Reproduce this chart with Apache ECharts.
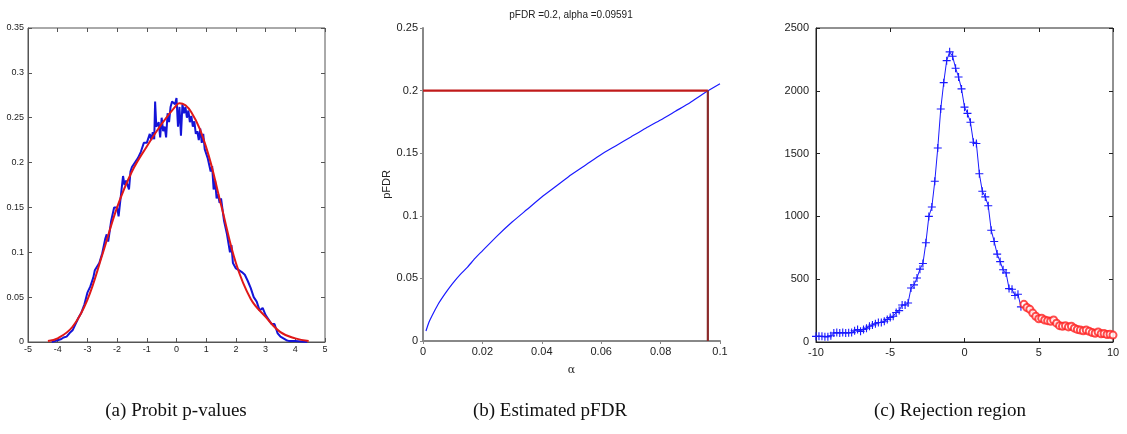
<!DOCTYPE html>
<html>
<head>
<meta charset="utf-8">
<script src="https://cdn.jsdelivr.net/npm/echarts@6/dist/echarts.min.js"></script>
<style>
html,body{margin:0;padding:0;background:#fff;}
#chart{width:1127px;height:434px;}
</style>
</head>
<body>
<div id="chart"></div>
<script>
// ---------- Panel (a): Probit p-values ----------
var probitEmpirical = [
  [-4.2,0.000],[-4.1,0.001],[-4.0,0.002],[-3.9,0.003],[-3.8,0.005],[-3.7,0.006],[-3.6,0.010],[-3.5,0.013],
  [-3.4,0.020],[-3.3,0.027],[-3.2,0.033],[-3.1,0.042],[-3.0,0.055],[-2.9,0.062],[-2.8,0.072],[-2.75,0.080],
  [-2.7,0.078],[-2.6,0.088],[-2.5,0.099],[-2.4,0.115],[-2.35,0.120],[-2.3,0.112],[-2.2,0.135],[-2.1,0.150],
  [-2.0,0.150],[-1.95,0.140],[-1.9,0.155],[-1.8,0.185],[-1.75,0.175],[-1.7,0.180],[-1.6,0.170],[-1.55,0.190],
  [-1.5,0.195],[-1.4,0.200],[-1.3,0.205],[-1.2,0.212],[-1.1,0.222],[-1.0,0.222],[-0.9,0.232],[-0.85,0.225],
  [-0.8,0.234],[-0.75,0.226],[-0.72,0.268],[-0.68,0.240],[-0.6,0.245],[-0.55,0.228],[-0.5,0.250],[-0.45,0.235],
  [-0.4,0.240],[-0.35,0.228],[-0.3,0.255],[-0.25,0.245],[-0.2,0.262],[-0.15,0.268],[-0.1,0.270],[-0.05,0.265],
  [0.0,0.272],[0.05,0.240],[0.1,0.262],[0.15,0.230],[0.2,0.265],[0.25,0.255],[0.3,0.262],[0.35,0.250],
  [0.4,0.258],[0.45,0.245],[0.5,0.252],[0.55,0.240],[0.6,0.246],[0.65,0.232],[0.7,0.235],[0.75,0.225],
  [0.8,0.238],[0.85,0.222],[0.9,0.232],[0.95,0.215],[1.0,0.215],[1.05,0.205],[1.1,0.207],[1.15,0.190],
  [1.2,0.196],[1.25,0.170],[1.3,0.180],[1.35,0.160],[1.4,0.165],[1.45,0.155],[1.5,0.160],[1.6,0.135],
  [1.7,0.120],[1.8,0.100],[1.85,0.108],[1.9,0.088],[2.0,0.082],[2.1,0.080],[2.2,0.078],[2.3,0.075],
  [2.4,0.068],[2.5,0.060],[2.6,0.050],[2.7,0.045],[2.8,0.035],[2.9,0.038],[3.0,0.030],[3.1,0.025],
  [3.2,0.020],[3.3,0.020],[3.4,0.010],[3.5,0.006],[3.6,0.004],[3.7,0.002],[3.8,0.001],[4.0,0.001],
  [4.2,0.0005],[4.4,0.000]
];
var probitFit = [
  [-4.33,0.001],[-4.0,0.004],[-3.5,0.017],[-3.0,0.047],[-2.5,0.097],[-2.0,0.150],[-1.5,0.190],
  [-1.0,0.218],[-0.5,0.243],[0.0,0.264],[0.1,0.266],[0.5,0.256],[1.0,0.217],[1.5,0.153],
  [2.0,0.088],[2.5,0.048],[3.0,0.028],[3.5,0.011],[4.0,0.004],[4.45,0.001]
];
var ticksA_x = {min:-5, max:5, step:1};
var ticksA_y = {min:0, max:0.35, step:0.05};

// ---------- Panel (b): Estimated pFDR ----------
var alphaVals = [0.001,0.002,0.003,0.005,0.0075,0.01,0.0125,0.015,0.0175,0.02,0.025,0.03,0.035,0.04,0.045,
                 0.05,0.055,0.06,0.065,0.07,0.075,0.08,0.085,0.09,0.095,0.1];
var pfdrVals  = [0.008,0.015,0.020,0.029,0.038,0.046,0.053,0.059,0.066,0.072,0.084,0.095,0.105,0.115,0.124,
                 0.133,0.141,0.149,0.156,0.163,0.170,0.1765,0.1835,0.1905,0.1985,0.2055];
var pfdrTarget = 0.2;
var alphaStar = 0.09591;
var ticksB_x = {min:0, max:0.1, step:0.02};
var ticksB_y = {min:0, max:0.25, step:0.05};

// ---------- Panel (c): Rejection region ----------
var acceptPts = [
  [-10,45],[-9.8,45],[-9.6,45],[-9.4,42],[-9.2,42],[-9.0,50],[-8.8,72],[-8.6,75],[-8.4,72],[-8.2,75],
  [-8.0,72],[-7.8,74],[-7.6,75],[-7.4,90],[-7.2,100],[-7.0,85],[-6.8,100],[-6.6,110],[-6.4,125],[-6.2,135],
  [-6.0,145],[-5.8,155],[-5.6,155],[-5.4,165],[-5.2,180],[-5.0,195],[-4.8,205],[-4.6,235],[-4.4,250],[-4.2,295],
  [-4.0,295],[-3.8,310],[-3.6,430],[-3.4,455],[-3.2,510],[-3.0,580],[-2.8,625],[-2.6,790],[-2.4,1000],[-2.2,1075],
  [-2.0,1280],[-1.8,1545],[-1.6,1855],[-1.4,2065],[-1.2,2240],[-1.0,2310],[-0.8,2275],[-0.6,2180],[-0.4,2110],[-0.2,2015],
  [0.0,1870],[0.2,1820],[0.4,1750],[0.6,1590],[0.8,1580],[1.0,1340],[1.2,1200],[1.4,1155],[1.6,1085],[1.8,890],
  [2.0,800],[2.2,700],[2.4,640],[2.6,575],[2.8,550],[3.0,425],[3.2,420],[3.4,370],[3.6,380],[3.8,280]
];
var rejectPts = [
  [4.0,300],[4.2,275],[4.4,260],[4.6,230],[4.8,205],[5.0,185],[5.2,190],[5.4,175],[5.6,170],[5.8,165],
  [6.0,175],[6.2,150],[6.4,130],[6.6,125],[6.8,130],[7.0,120],[7.2,125],[7.4,110],[7.6,100],[7.8,95],
  [8.0,90],[8.2,95],[8.4,85],[8.6,75],[8.8,70],[9.0,80],[9.2,65],[9.4,68],[9.6,60],[9.8,62],[10.0,55]
];
var ticksC_x = {min:-10, max:10, step:5};
var ticksC_y = {min:0, max:2500, step:500};

var captions = ['(a) Probit p-values', '(b) Estimated pFDR', '(c) Rejection region'];
var titleB = 'pFDR =0.2, alpha =0.09591';

// ---------- chart ----------
var SANS = '"Liberation Sans Narrow","Liberation Sans",Arial,sans-serif';
var chart = echarts.init(document.getElementById('chart'), null, {renderer:'canvas'});
function plain(v){ return String(+v.toFixed(6)); }

function mainAxis(grid, t, opt) {
  var a = {
    type:'value', gridIndex:grid, min:t.min, max:t.max, interval:t.step,
    splitLine:{show:false},
    axisLine:{show:true, onZero:false, lineStyle:{color:opt.lineColor||'#333', width:opt.lineWidth||1}},
    axisTick:{show:true, inside:opt.inside!==false, length:opt.tickLen||4, lineStyle:{color:opt.tickColor||'#333'}},
    axisLabel:{show:true, fontFamily:SANS, fontSize:opt.fontSize, color:opt.labelColor||'#222', margin:opt.margin, formatter:plain},
    position: opt.position
  };
  if (opt.name) {
    a.name = opt.name; a.nameLocation = 'middle'; a.nameGap = opt.nameGap;
    a.nameTextStyle = {fontFamily:opt.nameFont||SANS, fontSize:opt.nameSize||11, color:'#222'};
    if (opt.nameRotate !== undefined) a.nameRotate = opt.nameRotate;
  }
  return a;
}
function mirrorAxis(grid, t, position, color) {
  return {
    type:'value', gridIndex:grid, min:t.min, max:t.max, interval:t.step, position:position,
    splitLine:{show:false}, axisLine:{show:false, onZero:false},
    axisTick:{show:true, inside:true, length:4, lineStyle:{color:color}},
    axisLabel:{show:false}
  };
}

var option = {
  animation:false,
  backgroundColor:'#fff',
  grid:[
    {left:28, top:28, width:297, height:314, show:true, borderColor:'#555', borderWidth:1, backgroundColor:'transparent'},
    {left:423, top:28, width:297, height:313, show:false},
    {left:816, top:28, width:297, height:314, show:true, borderColor:'#222', borderWidth:1, backgroundColor:'transparent'}
  ],
  xAxis:[
    mainAxis(0,ticksA_x,{fontSize:9, margin:3, lineColor:'#555', tickColor:'#555', position:'bottom'}),
    mainAxis(1,ticksB_x,{fontSize:11, margin:5, lineColor:'#888', lineWidth:2, tickColor:'#888', inside:false, tickLen:3, position:'bottom',
      name:'α', nameGap:24, nameFont:'"DejaVu Serif",serif', nameSize:11}),
    mainAxis(2,ticksC_x,{fontSize:11, margin:5, lineColor:'#222', tickColor:'#222', position:'bottom'}),
    mirrorAxis(0,ticksA_x,'top','#555'),
    mirrorAxis(2,ticksC_x,'top','#222')
  ],
  yAxis:[
    mainAxis(0,ticksA_y,{fontSize:9, margin:4, lineColor:'#555', tickColor:'#555', position:'left'}),
    mainAxis(1,ticksB_y,{fontSize:11, margin:5, lineColor:'#888', lineWidth:2, tickColor:'#888', inside:false, tickLen:3, position:'left',
      name:'pFDR', nameGap:30, nameRotate:90, nameSize:11}),
    mainAxis(2,ticksC_y,{fontSize:11, margin:7, lineColor:'#222', tickColor:'#222', position:'left'}),
    mirrorAxis(0,ticksA_y,'right','#555'),
    mirrorAxis(2,ticksC_y,'right','#222')
  ],
  series:[
    {type:'line', xAxisIndex:0, yAxisIndex:0, data:probitEmpirical, symbol:'none',
      lineStyle:{color:'#1414d8', width:2}, z:2},
    {type:'line', xAxisIndex:0, yAxisIndex:0, data:probitFit, symbol:'none', smooth:0.4,
      lineStyle:{color:'#e01818', width:2}, z:3},
    {type:'line', xAxisIndex:1, yAxisIndex:1,
      data:alphaVals.map(function(a,i){return [a,pfdrVals[i]];}), symbol:'none', smooth:0.2,
      lineStyle:{color:'#1a1aff', width:1.2}, z:2},
    {type:'line', xAxisIndex:1, yAxisIndex:1, data:[[0,pfdrTarget],[alphaStar,pfdrTarget]], symbol:'none',
      lineStyle:{color:'#c01a1a', width:2.2}, z:3},
    {type:'line', xAxisIndex:1, yAxisIndex:1, data:[[alphaStar,0],[alphaStar,pfdrTarget]], symbol:'none',
      lineStyle:{color:'#8b2a2a', width:2.2}, z:3},
    {type:'line', xAxisIndex:2, yAxisIndex:2, data:acceptPts,
      symbol:'path://M4.3,0 H5.7 V4.3 H10 V5.7 H5.7 V10 H4.3 V5.7 H0 V4.3 H4.3 Z', symbolSize:8,
      itemStyle:{color:'#1a1aff'}, lineStyle:{color:'#1a1aff', width:1}, z:2},
    {type:'scatter', xAxisIndex:2, yAxisIndex:2, data:rejectPts, symbol:'emptyCircle', symbolSize:7,
      itemStyle:{color:'#ff2020', borderColor:'#ff2020', borderWidth:1}, z:3}
  ],
  graphic:[
    {type:'text', x:571, y:15, style:{text:titleB, textAlign:'center', textVerticalAlign:'middle',
      fontFamily:SANS, fontSize:10, fill:'#222'}},
    {type:'text', x:176, y:411, style:{text:captions[0], textAlign:'center', textVerticalAlign:'middle',
      fontFamily:'"Liberation Serif","DejaVu Serif",serif', fontSize:19, fill:'#111'}},
    {type:'text', x:550, y:411, style:{text:captions[1], textAlign:'center', textVerticalAlign:'middle',
      fontFamily:'"Liberation Serif","DejaVu Serif",serif', fontSize:19, fill:'#111'}},
    {type:'text', x:950, y:411, style:{text:captions[2], textAlign:'center', textVerticalAlign:'middle',
      fontFamily:'"Liberation Serif","DejaVu Serif",serif', fontSize:19, fill:'#111'}}
  ]
};
chart.setOption(option);
</script>
</body>
</html>
